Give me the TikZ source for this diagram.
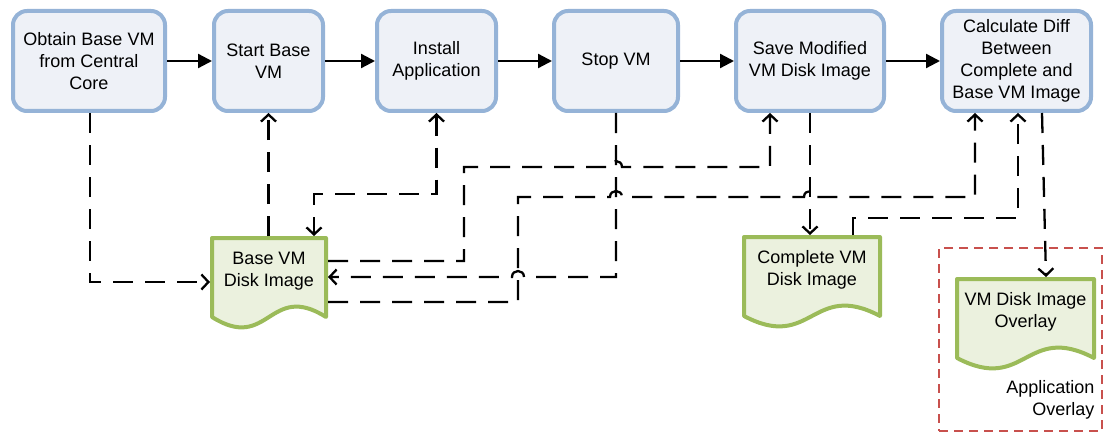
\documentclass[tikz,border=0pt]{standalone}
\usepackage{fontspec}
\setmainfont{Liberation Sans}
\usetikzlibrary{arrows.meta,calc,backgrounds}
\definecolor{procfill}{RGB}{238,241,247}
\definecolor{procline}{RGB}{149,179,215}
\definecolor{docfill}{RGB}{235,241,222}
\definecolor{docline}{RGB}{155,187,89}
\definecolor{grpline}{RGB}{200,80,77}
\begin{document}
\begin{tikzpicture}[x=1pt,y=-1pt,
  every node/.style={font=\fontsize{18}{22}\selectfont, align=center, text=black},
  proc/.style={draw=procline, fill=procfill, line width=4pt, rounded corners=14pt,
    minimum height=100pt, inner sep=2pt},
  docnode/.style={minimum width=#1, minimum height=70pt, inner sep=0pt, outer sep=0pt},
  docshape/.style={draw=docline, fill=docfill, line width=4pt, line join=round},
  flow/.style={line width=2.3pt, -{Triangle[length=14pt,width=14pt]}},
  data/.style={line width=2.3pt, dash pattern=on 20pt off 12pt,
    -{Straight Barb[length=7pt,width=15pt]}},
  datab/.style={data, {Straight Barb[length=7pt,width=15pt]}-{Straight Barb[length=7pt,width=15pt]}},
  grp/.style={draw=grpline, line width=2.5pt, dash pattern=on 9pt off 6pt,
    minimum width=#1, inner sep=0pt, outer sep=0pt},
]
\useasboundingbox (0,0) rectangle (1107,433);

% process boxes
\node[proc, minimum width=152pt] (b1) at (89,61) {Obtain Base VM\\from Central\\Core};
\node[proc, minimum width=109pt] (b2) at (268.5,61) {Start Base\\VM};
\node[proc, minimum width=119pt] (b3) at (436.5,61) {Install\\Application};
\node[proc, minimum width=124pt] (b4) at (616,61) {Stop VM};
\node[proc, minimum width=148pt] (b5) at (810,61) {Save Modified\\VM Disk Image};
\node[proc, minimum width=149pt] (b6) at (1016.5,61) {Calculate Diff\\Between\\Complete and\\Base VM Image};

% group frame
\node[grp=163pt, minimum height=183pt] (g) at (1020.5,339.5) {};
\node[anchor=east, align=right] (gl) at (1098,400) {Application\\Overlay};

% documents (text nodes, outline drawn behind)
\node[docnode=118pt] (bd) at (269,271) {Base VM\\Disk Image};
\node[docnode=140pt] (bc) at (812,270) {Complete VM\\Disk Image};
\node[docnode=141pt] (bo) at (1025.5,312) {VM Disk Image\\Overlay};

\begin{scope}[on background layer]
\foreach \d in {bd,bc,bo}{
  \path[docshape] ($(\d.north west)+(2,2)$) -- ($(\d.north east)+(-2,2)$)
    -- ($(\d.south east)+(-2,11)$)
    .. controls ($(\d.south)+(0,-25)$) and ($(\d.south)+(0,47)$) ..
    ($(\d.south west)+(2,11)$) -- cycle;
}
\end{scope}

% main flow
\draw[flow] (b1) -- (b2);
\draw[flow] (b2) -- (b3);
\draw[flow] (b3) -- (b4);
\draw[flow] (b4) -- (b5);
\draw[flow] (b5) -- (b6);

% data connectors
\draw[data] ($(b1.south)+(1,0)$) |- ($(bd.west)+(0,11)$);
\draw[data] (bd.north -| b2.south) -- (b2.south);
\draw[datab] (b3.south) -- ++(0,81) -| ($(bd.north)+(45,0)$);
\draw[data] ($(bd.east)+(0,-10)$) -| (464,167) -- (610,167)
  .. controls (610,159) and (622,159) .. (622,167) -| ($(b5.south)+(-40,0)$);
\draw[data] (b4.south) -- (616,277) -- (524,277)
  .. controls (524,269) and (512,269) .. (512,277) -- ($(bd.east)+(0,6)$);
\draw[data] ($(bd.east)+(0,31)$) -| (518,197) -- (610,197)
  .. controls (610,189) and (622,189) .. (622,197) -- (804,197)
  .. controls (804,189) and (816,189) .. (816,197) -| ($(b6.south)+(-41.5,0)$);
\draw[data] (b5.south) -- (b5.south |- bc.north);
\draw[data] ($(bc.north)+(41,0)$) -- ++(0,-17) -| ($(b6.south)+(1.5,0)$);
\draw[data] ($(b6.south)+(25.5,0)$) -- ($(bo.north)+(20.5,0)$);
\end{tikzpicture}
\end{document}
